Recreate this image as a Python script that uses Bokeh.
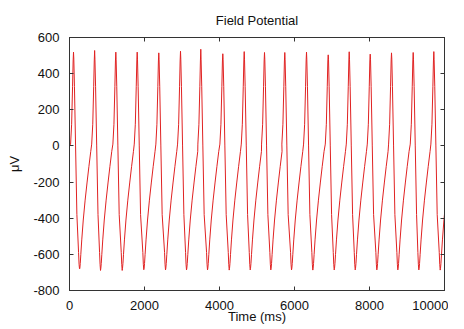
from bokeh.plotting import figure
from bokeh.models import Range1d, LinearAxis, FixedTicker, CustomJSTickFormatter
from bokeh.embed import file_html
from bokeh.resources import INLINE

# ---- data ----
x_ticks = [0, 2000, 4000, 6000, 8000, 10000]
y_ticks = [-800, -600, -400, -200, 0, 200, 400, 600]

# spike peaks (ms, µV)
peak_t = [107, 670, 1235, 1805, 2381, 2960, 3501, 4088, 4659, 5200,
          5741, 6320, 6899, 7459, 8019, 8587, 9165, 9715]
peak_v = [519, 528, 519, 519, 515, 524, 535, 510, 522, 517,
          517, 519, 504, 521, 508, 515, 517, 522]
# troughs (ms, µV)
trough_t = [267, 827, 1405, 1981, 2560, 3120, 3680, 4259, 4819, 5368,
            5920, 6488, 7059, 7619, 8195, 8755, 9315, 9885]
trough_v = [-680, -689, -689, -685, -686, -686, -686, -687, -686, -686,
            -686, -687, -686, -686, -686, -686, -686, -687]

# waveform shape (offsets in ms)
start_t, start_v = 0, 0
upstroke_dt = [-78, -50, -25, -10]       # before a peak (shoulder, then upstroke)
upstroke_v = [10, 120, 330, 470]
fall_dt = [8, 25, 55, 90]                # after a peak
fall_v = [480, 330, 0, -380]
pretrough_dt = [-25, -12]                # before a trough
pretrough_v = [-590, -655]
rise_dt = [8, 20, 35, 60, 100, 150, 200, 250, 300]   # after a trough
rise_v = [-678, -650, -600, -520, -410, -300, -205, -115, -30]

xs = [start_t]
ys = [start_v]
for P, pv, T, tv in zip(peak_t, peak_v, trough_t, trough_v):
    xs += [P + d for d in upstroke_dt] + [P]
    ys += list(upstroke_v) + [pv]
    xs += [P + d for d in fall_dt]
    ys += list(fall_v)
    xs += [T + d for d in pretrough_dt] + [T]
    ys += list(pretrough_v) + [tv]
    xs += [T + d for d in rise_dt]
    ys += list(rise_v)

FONT = "Liberation Sans"
AX = "#333333"
TXT = "#111111"

p = figure(frame_width=375, frame_height=253,
           x_range=Range1d(0, 10000), y_range=Range1d(-800, 600),
           output_backend="svg", toolbar_location=None,
           title="Field Potential",
           min_border_left=69, min_border_right=4,
           min_border_top=37, min_border_bottom=20)
p.background_fill_color = "white"
p.border_fill_color = "white"
p.outline_line_color = AX
p.xgrid.visible = False
p.ygrid.visible = False

p.title.align = "center"
p.title.text_font = FONT
p.title.text_font_size = "13px"
p.title.text_font_style = "normal"
p.title.text_color = TXT
p.title.standoff = 20

p.line(xs, ys, line_color="#e02222", line_width=1)

def style(ax):
    ax.major_tick_in = 4
    ax.major_tick_out = 0
    ax.minor_tick_line_color = None
    ax.axis_line_color = AX
    ax.major_tick_line_color = AX
    ax.major_label_text_font = FONT
    ax.major_label_text_font_size = "13px"
    ax.major_label_text_color = TXT
    ax.axis_label_text_font = FONT
    ax.axis_label_text_font_size = "13px"
    ax.axis_label_text_font_style = "normal"
    ax.axis_label_text_color = TXT

xa = p.xaxis[0]
ya = p.yaxis[0]
style(xa)
style(ya)
xa.ticker = FixedTicker(ticks=x_ticks)
ya.ticker = FixedTicker(ticks=y_ticks)
xa.formatter = CustomJSTickFormatter(code="return tick.toString()")
ya.formatter = CustomJSTickFormatter(code="return tick.toString()")
xa.axis_label = "Time (ms)"
ya.axis_label = "μV"
xa.major_label_standoff = 10
xa.axis_label_standoff = -4
ya.major_label_standoff = 10
ya.axis_label_standoff = 8

top = LinearAxis(ticker=FixedTicker(ticks=x_ticks),
                 formatter=CustomJSTickFormatter(code="return ''"))
right = LinearAxis(ticker=FixedTicker(ticks=y_ticks),
                   formatter=CustomJSTickFormatter(code="return ''"))
for ax in (top, right):
    style(ax)
    ax.major_label_standoff = 0
p.add_layout(top, "above")
p.add_layout(right, "right")

open("out.html", "w").write(file_html(p, INLINE))
